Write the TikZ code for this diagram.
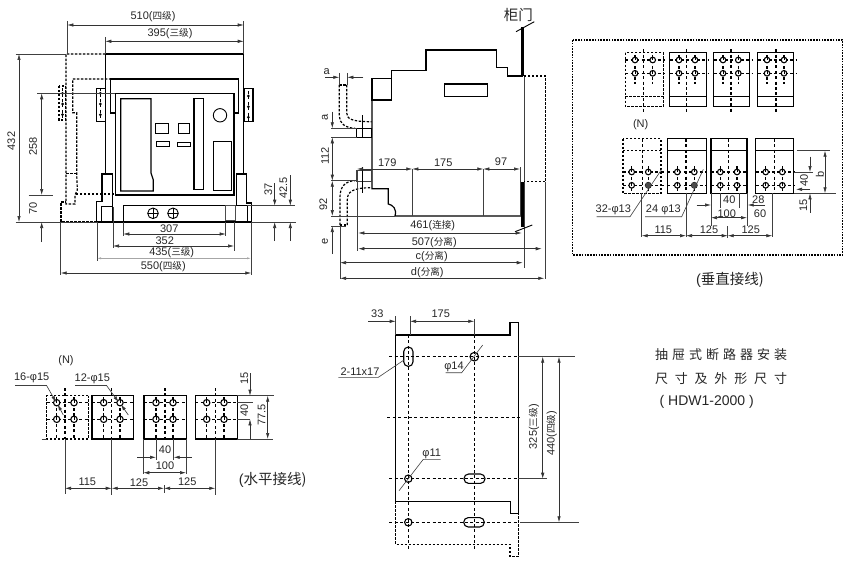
\documentclass[tikz,border=0pt]{standalone}
\usepackage{fontspec}
\setmainfont{Liberation Sans}
\newfontfamily\cjk{Noto Sans CJK SC}
\usetikzlibrary{arrows.meta}
\newcommand{\zh}[1]{{\cjk\fontsize{9.6}{10}\selectfont #1}}
\newcommand{\bushole}[3]{\draw[hole,fill=white] (#1,#2) circle (#3pt); \draw[line width=0.9pt] (#1,#2-#3) -- (#1,#2+0.3);}
\tikzset{
  body/.style={line width=1.2pt,black},
  thick bar/.style={line width=3pt,black},
  thin/.style={line width=0.9pt,black},
  hole/.style={line width=1.1pt,black},
  hidden/.style={line width=1.2pt,black,dash pattern=on 2.4pt off 1.6pt},
  centre/.style={line width=1.1pt,black,dash pattern=on 3pt off 2.4pt},
  ext/.style={line width=0.6pt,black!75},
  dimen/.style={line width=0.6pt,black!80,{Latex[length=6pt,width=3.4pt]}-{Latex[length=6pt,width=3.4pt]}},
  arr/.style={line width=0.6pt,black!80,-{Latex[length=6pt,width=3.4pt]}},
  lbl/.style={inner sep=0pt,font=\fontsize{11}{12}\selectfont,black!85},
  lblv/.style={lbl,rotate=90},
  caption/.style={inner sep=0pt,font=\fontsize{14.5}{16}\selectfont,black!85},
  titleline/.style={inner sep=0pt,font=\fontsize{13}{15}\selectfont,black!85},
}
\begin{document}
\begin{tikzpicture}[x=1pt,y=-1pt]
  \useasboundingbox (0,0) rectangle (850,575);

  % front view
  \draw[body] (105.3,174) -- (105.3,54) -- (243.7,54) -- (243.7,174);
  \draw[body] (115.3,113) -- (110.7,113) -- (110.7,79) -- (238.7,79) -- (238.7,113) -- (234,113);
  \draw[body] (115.3,93.3) rectangle (234,195);
  \draw[body] (120.7,98.7) -- (151,98.7) -- (151,173) -- (153.3,180) -- (153.3,191) -- (120.7,191) -- cycle;
  \draw[body] (155.7,123.3) rectangle (168.3,133.3);
  \draw[body] (178.3,123.3) rectangle (189.3,133.3);
  \draw[thin] (156,141.3) rectangle (169.3,146.7);
  \draw[thin] (177.7,142.3) rectangle (190.3,146.7);
  \draw[body] (194,98.7) rectangle (203.3,189.3);
  \draw[thin] (220,115.3) circle (6.7pt);
  \draw[body] (213.3,141.3) rectangle (231.3,190.3);
  \draw[body] (96.3,88.7) rectangle (105.3,121.3);
  \draw[body] (244.3,88.7) rectangle (253,121.3);
  \draw[hidden] (59,86) rectangle (65.7,120);
  \foreach \x/\ya/\yb/\yc in {100.3/93.3/104/114.7,248.3/96/106.7/117.3,62.5/93.3/104/114.7} {
    \draw[centre] (\x,\ya-5) -- (\x,\yc+5);
    \foreach \y in {\ya,\yb,\yc}
      \fill (\x,\y) circle (1.5pt);
  }
  \draw[body] (96.7,222) -- (96.7,201.3) -- (102,201.3) -- (102,174) -- (112.7,174) -- (112.7,222);
  \draw[thin] (101.3,222) -- (101.3,206) -- (112.7,206);
  \draw[body] (236.7,205.7) -- (236.7,174) -- (246.3,174) -- (246.3,203) -- (251.3,203) -- (251.3,222);
  \draw[body] (123.3,205.7) rectangle (247.3,222);
  \draw[thin,black!70] (225.7,205.7) rectangle (235,220);
  \draw[body] (96.7,222) -- (251.3,222);
  \foreach \x in {153,173} {
    \draw[thin] (\x,213.3) circle (5.3pt);
    \draw[thin] (\x-5.3,213.3) -- (\x+5.3,213.3) (\x,208) -- (\x,218.6);
  }
  \draw[hidden] (105.3,54) -- (66,54) -- (66,204) -- (75,204) -- (75,195) -- (77.3,190) -- (76.7,173.3) -- (76.7,112.7) -- (72.7,112.7) -- (72.7,79) -- (110,79);
  \draw[hidden] (76.7,173.3) -- (66,173.3);
  \draw[hidden] (76,194) -- (115,194);
  \draw[hidden] (96.7,222) -- (61,222) -- (61,202) -- (66,202);

  \draw[ext] (67.3,21) -- (67.3,54) (243.7,21) -- (243.7,54) (105.3,37) -- (105.3,54);
  \draw[ext] (15.7,54) -- (66,54) (15.7,222) -- (96.7,222) (37,93.3) -- (115,93.3) (28.7,195) -- (53,195);
  \draw[ext] (123.3,222) -- (123.3,236) (225.7,222) -- (225.7,236) (113,207) -- (113,248) (234,222) -- (234,251);
  \draw[ext] (60.7,222) -- (60.7,275) (251.3,222) -- (251.3,275) (97,222) -- (97,261);
  \draw[ext] (247,205.7) -- (295,205.7) (251,222) -- (296,222);
  \draw[dimen] (67.3,25) -- (243.7,25);
  \draw[dimen] (105.3,41.3) -- (243.7,41.3);
  \draw[dimen] (19,54) -- (19,222);
  \draw[dimen] (41.7,93.3) -- (41.7,195);
  \draw[arr] (41.7,242) -- (41.7,222);
  \draw[dimen] (123.3,234) -- (225.7,234);
  \draw[dimen] (113,246) -- (234,246);
  \draw[black!35,line width=0.5pt,{Latex[length=4pt,width=2pt]}-{Latex[length=4pt,width=2pt]}] (97,258.3) -- (251,258.3);
  \draw[dimen] (60.7,273) -- (251.3,273);
  \draw[arr] (274.7,183) -- (274.7,205.7);
  \draw[arr] (274.7,241) -- (274.7,222);
  \draw[arr] (290.3,175) -- (290.3,205.7);
  \draw[arr] (290.3,241) -- (290.3,222);
  \node[lbl] (f510) at (153,16.3) {510(\zh{四级})};
  \node[lbl] (f395) at (170,33.3) {395(\zh{三级})};
  \node[lblv] (f432) at (11.3,141) {432};
  \node[lblv] (f258) at (33,146.7) {258};
  \node[lblv] (f70) at (33,208) {70};
  \node[lbl] (f307) at (169.3,228.7) {307};
  \node[lbl] (f352) at (164.7,240.7) {352};
  \node[lbl] (f435) at (171.7,252.7) {435(\zh{三级})};
  \node[lbl] (f550) at (163.3,266.7) {550(\zh{四级})};
  \node[lblv] (f37) at (268.3,189.3) {37};
  \node[lblv] (f425) at (283.3,187.7) {42.5};

  % side view
  \draw[body] (372,78.3) rectangle (391.7,100);
  \draw[body] (391.7,78.3) -- (391.7,70.7) -- (426,70.7) -- (426,50) -- (496.7,50) -- (496.7,67.3) -- (507.3,67.3) -- (507.3,76) -- (522.7,76);
  \draw[body] (372,100) -- (372,188.7) -- (388.3,188.7) -- (388.3,204) .. controls (393,205) and (397,209) .. (395,216) -- (522,216);
  \draw[body] (444.3,84) rectangle (487.3,96.7);
  \draw[thick bar] (522.7,26.7) -- (522.7,76);
  \draw[thick bar] (522.7,182) -- (522.7,226.7);
  \draw[ext] (524.3,76) -- (524.3,268);
  \draw[thin] (516,31.7) -- (534.3,21.7);
  \draw[thin] (515,231.7) -- (532.3,225);
  \node[caption] (door) at (518.3,15) {\cjk 柜门};
  \draw[hidden] (524,76) -- (545.7,76) -- (545.7,181.7) -- (524,181.7);
  \draw[body] (356.7,128.3) rectangle (371.7,137.3);
  \draw[thin] (362,115) -- (362,137.3);
  \draw[body,black!75] (356.7,170.7) rectangle (371.7,181.7);
  \draw[thin] (362,167) -- (362,193);
  \draw[hidden] (339.3,85) -- (346.7,85);
  \draw[hidden] (339.3,85) -- (339.3,116) .. controls (339.3,123) and (345,128) .. (355,128.3);
  \draw[hidden] (346.7,85) -- (346.7,113) .. controls (346.7,119) and (352,121.7) .. (371.7,121.7);
  \draw[hidden] (340,225) -- (347.3,225);
  \draw[hidden] (340,225) -- (340,197) .. controls (340,187) and (345,181) .. (355,180.7);
  \draw[hidden] (347.3,225) -- (347.3,200) .. controls (347.3,192) and (352,187.7) .. (371.7,187.7);

  \draw[ext] (339.3,73) -- (339.3,85) (347.3,73) -- (347.3,85);
  \draw[ext] (331,128.3) -- (356.7,128.3) (331,137.3) -- (356.7,137.3) (331,180.7) -- (356.7,180.7) (331,216) -- (395,216) (331,226) -- (346,226);
  \draw[ext] (412.3,169) -- (412.3,216) (483.3,169) -- (483.3,216) (520,167) -- (520,216);
  \draw[ext] (357,170) -- (357,251) (340,226) -- (340,279) (545,182) -- (545,279);
  \draw[arr] (325,77.3) -- (339.3,77.3);
  \draw[arr] (363.3,77.3) -- (347.3,77.3);
  \draw[arr] (332.3,111.7) -- (332.3,128.3);
  \draw[dimen] (332.3,137.3) -- (332.3,180.7);
  \draw[dimen] (332.3,180.7) -- (332.3,216);
  \draw[arr] (332.3,254) -- (332.3,226);
  \draw[dimen] (357,169) -- (412.3,169);
  \draw[dimen] (412.3,169) -- (483.3,169);
  \draw[dimen] (483.3,169) -- (520,169);
  \draw[dimen] (358.3,233) -- (521.7,233);
  \draw[dimen] (358.3,248.7) -- (541.7,248.7);
  \draw[dimen] (340,262.7) -- (522.7,262.7);
  \draw[dimen] (340,278.3) -- (544.3,278.3);
  \node[lbl] (sa1) at (326.7,71.7) {a};
  \node[lblv] (sa2) at (325,117.7) {a};
  \node[lblv] (s112) at (325,156) {112};
  \node[lblv] (s92) at (323.3,204) {92};
  \node[lblv] (se) at (325,241.7) {e};
  \node[lbl] (s179) at (387.3,162.3) {179};
  \node[lbl] (s175) at (443.3,162.3) {175};
  \node[lbl] (s97) at (501,161.3) {97};
  \node[lbl] (s461) at (432.7,226) {461(\zh{连接})};
  \node[lbl] (s507) at (434.3,242.7) {507(\zh{分离})};
  \node[lbl] (sc) at (431.7,256.7) {c(\zh{分离})};
  \node[lbl] (sd) at (427.3,272.3) {d(\zh{分离})};

  % vertical wiring
  \draw[line width=1.2pt,dash pattern=on 1.6pt off 1.2pt] (572.7,40) rectangle (842.7,255);
  \draw[hidden] (625.3,52.7) rectangle (663.3,106.7);
  \draw[hidden] (625.3,96.7) -- (663.3,96.7);
  \draw[centre] (643.7,49.3) -- (643.7,112.7);
  \foreach \xa/\xb/\xc/\xd/\xe in {669.7/706.3/686.7/679/695,713.7/749.7/731/723/738.3,757.7/793.7/776/767/784} {
    \draw[body] (\xa,52.7) rectangle (\xb,106.7);
    \draw[body] (\xa,96.7) -- (\xb,96.7);
    \draw[centre] (\xc,49.3) -- (\xc,112.7);
    \foreach \y in {60,73.3}
      \draw[centre] (\xa,\y) -- (\xb+2,\y);
    \foreach \x in {\xd,\xe} {
      \draw[centre] (\x,55) -- (\x,84);
      \foreach \y in {60,73.3} {\bushole{\x}{\y}{2.8}}
    }
  }
  \foreach \y in {60,73.3}
    \draw[centre] (625.3,\y) -- (665,\y);
  \foreach \x in {635,652.7} {
    \draw[centre] (\x,55) -- (\x,84);
    \foreach \y in {60,73.3} {\bushole{\x}{\y}{2.8}}
  }

  \draw[hidden] (623,138.7) rectangle (661,193.3);
  \draw[hidden] (623,150.7) -- (661,150.7);
  \draw[centre] (642.3,138.7) -- (642.3,193.3);
  \foreach \xa/\xb/\xc/\xd/\xe in {667.3/706.3/686/677.3/694.3,711/747/728.3/720.3/737,755.7/793.7/774.3/765.7/782.3} {
    \draw[body] (\xa,138.7) rectangle (\xb,193.3);
    \draw[body] (\xa,150.7) -- (\xb,150.7);
    \draw[centre] (\xc,138.7) -- (\xc,193.3);
    \foreach \y in {172,185.3}
      \draw[centre] (\xa,\y) -- (\xb,\y);
    \foreach \x in {\xd,\xe} {
      \draw[centre] (\x,166) -- (\x,192);
      \foreach \y in {172,185.3} {\bushole{\x}{\y}{2.8}}
    }
  }
  \foreach \y in {172,185.3}
    \draw[centre] (623,\y) -- (664,\y);
  \foreach \x in {631.7,648.3} {
    \draw[centre] (\x,166) -- (\x,192);
    \foreach \y in {172,185.3} {\bushole{\x}{\y}{2.8}}
  }
  \fill[black!70] (648.3,185.3) circle (3pt);
  \fill[black!70] (694.3,185.3) circle (3pt);

  \draw[ext] (796.7,150.7) -- (830,150.7) (793.7,193.3) -- (835.7,193.3) (793.7,172) -- (813,172);
  \draw[ext] (641.7,193.3) -- (641.7,237) (686,193.3) -- (686,237) (772.3,193.3) -- (772.3,237) (727.7,226) -- (727.7,238);
  \draw[ext] (711,193.3) -- (711,226) (747,193.3) -- (747,226) (720.7,193.3) -- (720.7,208) (739,193.3) -- (739,208);
  \draw[dimen] (825,150.7) -- (825,193.3);
  \draw[arr] (810,156.7) -- (810,172);
  \draw[arr] (810,212.7) -- (810,193.3);
  \draw[arr] (810,189.3) -- (796,189.3);
  \draw[arr] (696.7,205) -- (711,205);
  \draw[arr] (765,205) -- (747.7,205);
  \draw[dimen] (711,217.7) -- (747,217.7);
  \draw[dimen] (641.7,235.7) -- (686,235.7);
  \draw[dimen] (686,235.7) -- (727.7,235.7);
  \draw[dimen] (727.7,235.7) -- (772.3,235.7);
  \draw[ext] (661.7,169.3) -- (630,216.7) -- (596.7,216.7);
  \draw[ext] (703.3,169.3) -- (681.7,216.7) -- (645,216.7);
  \node[lbl] (vN) at (640.7,124.7) {(N)};
  \node[lbl] (v32) at (613.3,209.3) {32-φ13};
  \node[lbl] (v24) at (663.3,209.3) {24 φ13};
  \node[lblv] (vb) at (820,174.3) {b};
  \node[lblv] (v40) at (804,180) {40};
  \node[lblv] (v15) at (803.3,205) {15};
  \node[lbl] (v40h) at (729.3,200) {40};
  \node[lbl] (v28) at (758.3,199.3) {28};
  \node[lbl] (v60) at (760,214) {60};
  \node[lbl] (v100) at (726.7,213.3) {100};
  \node[lbl] (v115) at (663.3,229.3) {115};
  \node[lbl] (v125a) at (709,229.3) {125};
  \node[lbl] (v125b) at (750.7,229.3) {125};
  \node[caption] (vcap) at (730,280) {(\cjk 垂直接线)};

  % horizontal wiring
  \draw[hidden] (88.3,395.7) -- (46.7,395.7) -- (46.7,439) -- (88.3,439) -- cycle;
  \draw[centre] (65,388) -- (65,439);
  \foreach \xa/\xb/\xc/\xd/\xe in {92/133.3/111.7/103.7/120,144/186.7/165/156/173,195.3/237.3/215.3/206.7/224} {
    \draw[body] (\xa,395.7) rectangle (\xb,439);
    \draw[centre] (\xc,388) -- (\xc,439);
    \foreach \y in {402.7,419.3}
      \draw[centre] (\xa,\y) -- (\xb,\y);
    \foreach \x in {\xd,\xe} {
      \draw[centre] (\x,397) -- (\x,438);
      \foreach \y in {402.7,419.3} {\bushole{\x}{\y}{3.2}}
    }
  }
  \foreach \y in {402.7,419.3}
    \draw[centre] (46.7,\y) -- (88.3,\y);
  \foreach \x in {56.7,74} {
    \draw[centre] (\x,397) -- (\x,438);
    \foreach \y in {402.7,419.3} {\bushole{\x}{\y}{3.2}}
  }
  \draw[ext] (41.7,439) -- (46.7,439) (237.3,439) -- (272.7,439) (237.3,395.7) -- (274,395.7) (237.3,402.7) -- (252.7,402.7) (237.3,419.3) -- (250,419.3);
  \draw[ext] (65,439) -- (65,494) (111.7,439) -- (111.7,495) (215.3,439) -- (215.3,495) (164,485) -- (164,493);
  \draw[ext] (156,439) -- (156,460) (173,439) -- (173,460) (143.3,439) -- (143.3,474) (186.3,439) -- (186.3,474);
  \draw[arr] (250,373.3) -- (250,395.7);
  \draw[arr] (250,439) -- (250,419.3);
  \draw[dimen] (267.7,395.7) -- (267.7,439);
  \draw[arr] (137.3,457.3) -- (156,457.3);
  \draw[arr] (191.7,457.3) -- (173.7,457.3);
  \draw[dimen] (143.3,472.7) -- (186,472.7);
  \draw[dimen] (65,488.3) -- (111.7,488.3);
  \draw[dimen] (111.7,488.3) -- (164,488.3);
  \draw[dimen] (164,488.3) -- (215.3,488.3);
  \draw[ext] (15,385.7) -- (46.7,385.7);
  \draw[arr] (46.7,385.7) -- (56,402);
  \draw[arr] (63.3,415) -- (57.7,404.5);
  \draw[ext] (75,385.7) -- (106.7,385.7);
  \draw[arr] (106.7,385.7) -- (118.5,402);
  \draw[arr] (128.3,415) -- (121,404.5);
  \node[lbl] (hN) at (66,360.7) {(N)};
  \node[lbl] (h16) at (31.7,377.3) {16-φ15};
  \node[lbl] (h12) at (92.3,378.3) {12-φ15};
  \node[lblv] (h15) at (244.3,378.3) {15};
  \node[lblv] (h40v) at (244.3,410.7) {40};
  \node[lblv] (h775) at (261.7,415) {77.5};
  \node[lbl] (h40) at (165,449.3) {40};
  \node[lbl] (h100) at (165,466) {100};
  \node[lbl] (h115) at (87.3,481.7) {115};
  \node[lbl] (h125a) at (139,482.7) {125};
  \node[lbl] (h125b) at (187.3,481.7) {125};
  \node[caption] (hcap) at (272.7,480) {(\cjk 水平接线)};

  % mounting plate
  \draw[body] (395.7,335) -- (510,335) -- (510,322.3) -- (518.3,322.3) -- (518.3,513.3) -- (510.7,513.3) -- (510.7,501.3) -- (395.7,501.3) -- cycle;
  \draw[hidden] (395.7,501.3) -- (395.7,544.3) -- (510,544.3) -- (510,556.7) -- (518.3,556.7) -- (518.3,513.3);
  \draw[centre] (389.3,356.7) -- (518.3,356.7);
  \draw[centre] (387.3,417.7) -- (520.7,417.7);
  \draw[centre] (389.3,478.7) -- (518.3,478.7);
  \draw[centre] (389.3,522.3) -- (518.3,522.3);
  \draw[centre] (408.3,335) -- (408.3,550);
  \draw[centre] (474.3,335) -- (474.3,550);
  \draw[hole,rounded corners=4.6pt] (403.7,347) rectangle (413,366.4);
  \draw[hole,rounded corners=4.6pt] (464,474) rectangle (485,483.4);
  \draw[hole,rounded corners=4.6pt] (463.7,517.6) rectangle (484.3,527);
  \draw[hole] (474.3,356.7) circle (4.3pt);
  \draw[hole] (408.3,478.7) circle (3.7pt);
  \draw[hole] (408.3,522.3) circle (3.7pt);

  \draw[ext] (395.7,316) -- (395.7,335) (410,316) -- (410,335) (474.3,319) -- (474.3,335);
  \draw[ext] (518.3,356.7) -- (575,356.7) (518.3,478.7) -- (547.3,478.7) (520,522.3) -- (579.3,522.3);
  \draw[arr] (368.3,321.3) -- (395.7,321.3);
  \draw[dimen] (410,321.3) -- (474.3,321.3);
  \draw[dimen] (542.7,356.7) -- (542.7,478.7);
  \draw[dimen] (559,356.7) -- (559,522.3);
  \draw[ext] (338.3,377.3) -- (378.3,377.3) -- (404,360);
  \draw[ext] (445.7,372.7) -- (461.7,372.7) -- (482.7,345);
  \draw[ext] (440.7,459.3) -- (423.3,459.3) -- (399,490.7);
  \node[lbl] (p33) at (377.3,314) {33};
  \node[lbl] (p175) at (440.7,313.3) {175};
  \node[lblv] (p325) at (534,426.7) {325(\zh{三级})};
  \node[lblv] (p440) at (551.7,433.3) {440(\zh{四级})};
  \node[lbl] (p211) at (360,371.3) {2-11x17};
  \node[lbl] (p14) at (454,367.3) {φ14};
  \node[lbl] (p11) at (431.7,453.7) {φ11};

  % title
  \node[titleline] (title1) at (721,354.3) {\hbox to 132pt{\cjk 抽\hfil 屉\hfil 式\hfil 断\hfil 路\hfil 器\hfil 安\hfil 装}};
  \node[titleline] (title2) at (721,378.3) {\hbox to 132pt{\cjk 尺\hfil 寸\hfil 及\hfil 外\hfil 形\hfil 尺\hfil 寸}};
  \node[titleline] (title3) at (706.7,401.7) {\fontsize{14}{15}\selectfont ( HDW1-2000 )};
\end{tikzpicture}
\end{document}
